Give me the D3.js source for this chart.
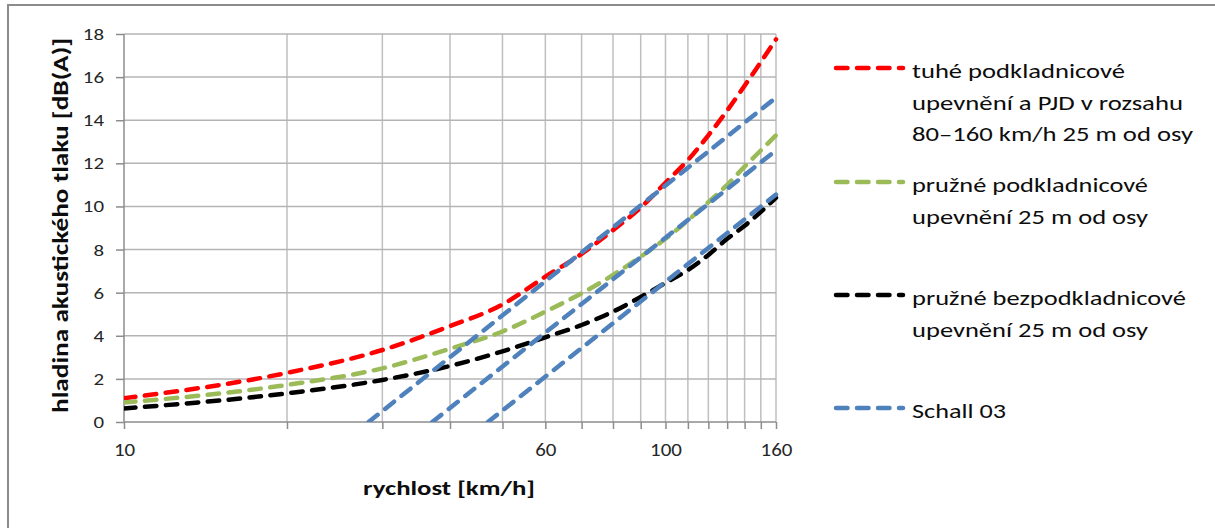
<!DOCTYPE html>
<html>
<head>
<meta charset="utf-8">
<script src="https://cdn.jsdelivr.net/npm/d3@7"></script>
<style>
  body { margin: 0; background: #fff; }
  svg { display: block; font-family: Carlito, Lato, sans-serif; }
</style>
</head>
<body>
<svg id="chart" width="1215" height="528"></svg>
<script>
(function() {

  // rychlost [km/h]
  var speeds = [10, 20, 30, 40, 50, 60, 70, 80, 90, 100, 110, 120, 130, 140, 150, 160];

  // hladina akustickeho tlaku [dB(A)]
  var tuhe = [1.10, 2.28, 3.34, 4.45, 5.45, 6.74, 7.80, 8.90, 9.95, 11.10, 12.15, 13.30, 14.45, 15.60, 16.70, 17.75];
  var pruzne = [0.90, 1.72, 2.49, 3.40, 4.20, 5.12, 5.97, 6.82, 7.67, 8.50, 9.35, 10.20, 11.00, 11.85, 12.60, 13.30];
  var bezpodkladnicove = [0.63, 1.33, 1.95, 2.60, 3.28, 3.93, 4.50, 5.12, 5.80, 6.45, 7.05, 7.75, 8.50, 9.10, 9.75, 10.40];

  // Schall 03 (three straight lines)
  var schallSpeeds = [[28.3, 160], [37.1, 160], [47.0, 160]];
  var schallLevels = [[0, 15.05], [0, 12.6], [0, 10.55]];

  var xTickVals = [10, 20, 30, 40, 50, 60, 70, 80, 90, 100, 110, 120, 130, 140, 150, 160];
  var xTickLabels = [10, 60, 100, 160];
  var yTickVals = [0, 2, 4, 6, 8, 10, 12, 14, 16, 18];

  var legendLabels = [
    ["tuhé podkladnicové", "upevnění a PJD v rozsahu", "80–160 km/h 25 m od osy"],
    ["pružné podkladnicové", "upevnění 25 m od osy"],
    ["pružné bezpodkladnicové", "upevnění 25 m od osy"],
    ["Schall 03"]
  ];
  var colors = ["#ff0000", "#9bbb59", "#000000", "#4f81bd"];

  // the source font is drawn wide, so the text is stretched to the widths seen there
  var legendWidths = [[213, 271, 281], [236, 236], [274, 236], [94]];
  var digitWidth = 10.6;

  var svg = d3.select("#chart");

  var x = d3.scaleLog().domain([10, 160]).range([124, 776]);
  var y = d3.scaleLinear().domain([0, 18]).range([422, 34]);

  // outer frame
  svg.append("rect")
    .attr("x", 8).attr("y", 5)
    .attr("width", 1240).attr("height", 560)
    .attr("fill", "none")
    .attr("stroke", "#8c8c8c")
    .attr("stroke-width", 2);

  // grid
  svg.append("g").selectAll("line")
    .data(xTickVals.slice(1))
    .enter().append("line")
    .attr("x1", function(d) { return x(d); })
    .attr("x2", function(d) { return x(d); })
    .attr("y1", y(18)).attr("y2", y(0))
    .attr("stroke", "#bfbfbf").attr("stroke-width", 1.5);

  svg.append("g").selectAll("line")
    .data(yTickVals.slice(1))
    .enter().append("line")
    .attr("x1", x(10)).attr("x2", x(160))
    .attr("y1", function(d) { return y(d); })
    .attr("y2", function(d) { return y(d); })
    .attr("stroke", "#b4b4b4").attr("stroke-width", 1.5);

  // axes
  var xAxis = d3.axisBottom(x)
    .tickValues(xTickVals)
    .tickSize(7)
    .tickFormat(function(d) { return xTickLabels.indexOf(d) >= 0 ? d : ""; });
  var gx = svg.append("g").attr("transform", "translate(0," + y(0) + ")").call(xAxis);
  gx.select(".domain").remove();
  gx.selectAll(".tick line").attr("stroke", "#8c8c8c").attr("stroke-width", 1.5);
  gx.selectAll(".tick text")
    .attr("y", 34)
    .attr("dy", null)
    .attr("fill", "#262626")
    .attr("lengthAdjust", "spacingAndGlyphs")
    .attr("textLength", function(d) { return xTickLabels.indexOf(d) >= 0 ? String(d).length * digitWidth : null; })
    .style("font-size", "18px")
    .style("font-family", "Carlito, Lato, sans-serif");

  var yAxis = d3.axisLeft(y).tickValues(yTickVals).tickSize(8).tickPadding(12);
  var gy = svg.append("g").attr("transform", "translate(" + x(10) + ",0)").call(yAxis);
  gy.select(".domain").remove();
  gy.selectAll(".tick line").attr("stroke", "#8c8c8c").attr("stroke-width", 1.5);
  gy.selectAll(".tick text")
    .attr("x", -20)
    .attr("fill", "#262626")
    .attr("lengthAdjust", "spacingAndGlyphs")
    .attr("textLength", function(d) { return String(d).length * digitWidth; })
    .style("font-size", "17px")
    .style("font-family", "Carlito, Lato, sans-serif");

  svg.append("line")
    .attr("x1", x(10)).attr("x2", x(160))
    .attr("y1", y(0)).attr("y2", y(0))
    .attr("stroke", "#8c8c8c").attr("stroke-width", 1.5);
  svg.append("line")
    .attr("x1", x(10)).attr("x2", x(10))
    .attr("y1", y(18)).attr("y2", y(0))
    .attr("stroke", "#8c8c8c").attr("stroke-width", 1.5);

  // axis titles
  svg.append("text")
    .attr("x", 449).attr("y", 495)
    .attr("text-anchor", "middle")
    .attr("font-weight", "bold")
    .attr("font-size", 20)
    .attr("fill", "#0d0d0d")
    .attr("lengthAdjust", "spacingAndGlyphs")
    .attr("textLength", 172)
    .text("rychlost [km/h]");

  svg.append("text")
    .attr("transform", "translate(68,225.5) rotate(-90)")
    .attr("text-anchor", "middle")
    .attr("font-weight", "bold")
    .attr("font-size", 23)
    .attr("fill", "#0d0d0d")
    .attr("lengthAdjust", "spacingAndGlyphs")
    .attr("textLength", 375)
    .text("hladina akustického tlaku [dB(A)]");

  // series
  svg.append("clipPath").attr("id", "plotclip")
    .append("rect")
    .attr("x", x(10)).attr("y", y(18) - 6)
    .attr("width", x(160) - x(10) + 6).attr("height", y(0) - y(18) + 6);

  var line = d3.line()
    .x(function(d) { return x(d[0]); })
    .y(function(d) { return y(d[1]); })
    .curve(d3.curveMonotoneX);

  var dash = "11.5,9.5";
  var plot = svg.append("g").attr("clip-path", "url(#plotclip)");

  function drawSeries(vs, ls, color) {
    plot.append("path")
      .datum(vs.map(function(v, i) { return [v, ls[i]]; }))
      .attr("d", line)
      .attr("fill", "none")
      .attr("stroke", color)
      .attr("stroke-width", 4.5)
      .attr("stroke-linecap", "round")
      .attr("stroke-dasharray", dash);
  }

  drawSeries(speeds, tuhe, colors[0]);
  drawSeries(speeds, pruzne, colors[1]);
  drawSeries(speeds, bezpodkladnicove, colors[2]);
  for (var i = 0; i < schallSpeeds.length; i++) {
    drawSeries(schallSpeeds[i], schallLevels[i], colors[3]);
  }

  // legend
  var legendLineY = [68, 182, 295, 408];
  var legendTextY = [78, 192, 305, 418];
  var lineStep = 31.5;
  for (var k = 0; k < legendLabels.length; k++) {
    svg.append("line")
      .attr("x1", 836).attr("x2", 903)
      .attr("y1", legendLineY[k]).attr("y2", legendLineY[k])
      .attr("stroke", colors[k])
      .attr("stroke-width", 4.5)
      .attr("stroke-linecap", "round")
      .attr("stroke-dasharray", dash);
    var g = svg.append("g");
    legendLabels[k].forEach(function(s, j) {
      g.append("text")
        .attr("x", 912).attr("y", legendTextY[k] + j * lineStep)
        .attr("font-size", 20)
        .attr("fill", "#0d0d0d")
        .attr("lengthAdjust", "spacingAndGlyphs")
        .attr("textLength", legendWidths[k][j])
        .text(s);
    });
  }

})();
</script>
</body>
</html>
